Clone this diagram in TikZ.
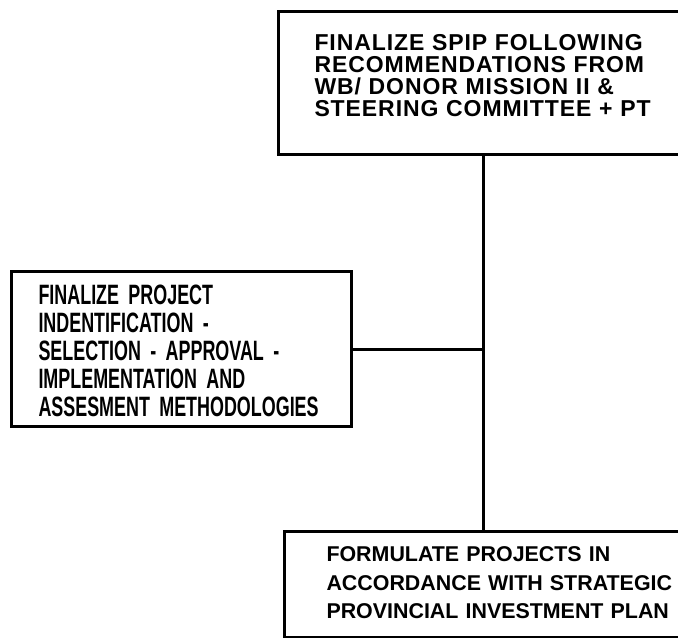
\documentclass[tikz,border=0pt]{standalone}
\usepackage{fontspec}
\newfontfamily\topfont[LetterSpace=4]{Liberation Sans}
\newfontfamily\leftfont[FakeStretch=0.64]{Liberation Sans}
\newfontfamily\lowfont{Liberation Sans}

\begin{document}
\begin{tikzpicture}[x=0.5pt,y=-0.5pt,line width=1.5pt,
  stage/.style={draw,rectangle,anchor=north west,inner ysep=0pt,align=left}]
\useasboundingbox (0,0) rectangle (678,637);
\clip (0,0) rectangle (678,637);
\node[stage,inner xsep=18pt,text width=169pt,text height=19.25pt,text depth=52.25pt,
  font=\topfont\bfseries\fontsize{11.5}{11.15}\selectfont] (spip) at (277,10)
  {FINALIZE SPIP FOLLOWING\\RECOMMENDATIONS FROM\\WB/ DONOR MISSION II \&\\STEERING COMMITTEE + PT};
\node[stage,inner xsep=13.5pt,text width=143pt,text height=16.7pt,text depth=60.8pt,
  font=\leftfont\bfseries\fontsize{14}{14}\selectfont] (method) at (10,270)
  {FINALIZE PROJECT\\INDENTIFICATION -\\SELECTION - APPROVAL -\\IMPLEMENTATION AND\\ASSESMENT METHODOLOGIES};
\node[stage,inner xsep=21pt,text width=175pt,text height=15pt,text depth=38pt,
  font=\lowfont\bfseries\fontsize{10.7}{14.25}\selectfont] (formulate) at (283,530)
  {FORMULATE PROJECTS IN\\ACCORDANCE WITH STRATEGIC\\PROVINCIAL INVESTMENT PLAN};
\draw (spip.south) -- (spip.south |- formulate.north);
\draw (method.east) -- (method.east -| spip.south);
\end{tikzpicture}
\end{document}
